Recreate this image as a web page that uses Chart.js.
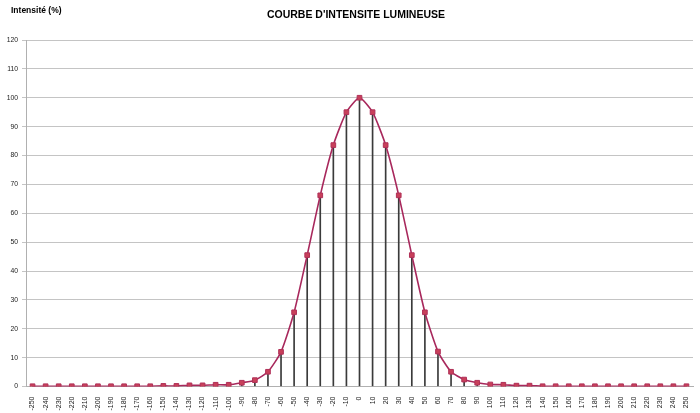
<!DOCTYPE html>
<html>
<head>
<meta charset="utf-8">
<script src="https://cdn.jsdelivr.net/npm/chart.js@4/dist/chart.umd.min.js"></script>
<style>
  html, body { margin: 0; padding: 0; background: #ffffff; }
  #wrap { position: relative; width: 700px; height: 413px; }
</style>
</head>
<body>
<div id="wrap"><canvas id="c" width="700" height="413"></canvas></div>
<script>
const chartTitle = "COURBE D'INTENSITE LUMINEUSE";
const yAxisTitle = "Intensité (%)";

const angles = [
  "-250","-240","-230","-220","-210","-200","-190","-180","-170","-160",
  "-150","-140","-130","-120","-110","-100","-90","-80","-70","-60",
  "-50","-40","-30","-20","-10","0","10","20","30","40",
  "50","60","70","80","90","100","110","120","130","140",
  "150","160","170","180","190","200","210","220","230","240","250"
];

const intensity = [
  0.1, 0.1, 0.1, 0.1, 0.1, 0.1, 0.1, 0.1, 0.1, 0.1,
  0.2, 0.2, 0.4, 0.4, 0.6, 0.6, 1.3, 2.2, 5.1, 12.0,
  25.7, 45.5, 66.2, 83.6, 95.0, 100.0, 95.0, 83.6, 66.2, 45.5,
  25.7, 12.1, 5.1, 2.4, 1.3, 0.7, 0.6, 0.3, 0.3, 0.1,
  0.1, 0.1, 0.1, 0.1, 0.1, 0.1, 0.1, 0.1, 0.1, 0.1, 0.1
];

const yTicks = { min: 0, max: 120, step: 10 };

const textPlugin = {
  id: 'texts',
  afterDraw(chart) {
    const ctx = chart.ctx;
    ctx.save();
    ctx.fillStyle = '#000000';
    ctx.textBaseline = 'middle';
    ctx.font = 'bold 10.5px "Liberation Sans", Arial, sans-serif';
    ctx.textAlign = 'center';
    ctx.fillText(chartTitle, 356, 15);
    ctx.font = 'bold 8.5px "Liberation Sans", Arial, sans-serif';
    ctx.textAlign = 'left';
    ctx.fillText(yAxisTitle, 11, 11);
    ctx.restore();
  }
};

new Chart(document.getElementById('c'), {
  data: {
    labels: angles,
    datasets: [
      {
        type: 'line',
        data: intensity,
        borderColor: '#a8285c',
        borderWidth: 1.6,
        backgroundColor: '#c8405a',
        pointStyle: 'rect',
        pointRadius: 3.3,
        pointBorderColor: '#b03058',
        pointBackgroundColor: '#c8405a',
        pointBorderWidth: 1,
        tension: 0.2,
        fill: false,
        order: 0
      },
      {
        type: 'bar',
        data: intensity,
        backgroundColor: '#3a3a3a',
        barThickness: 1,
        order: 1
      }
    ]
  },
  options: {
    responsive: false,
    animation: false,
    devicePixelRatio: 1,
    layout: { padding: { left: 0, right: 7, top: 40, bottom: 0 } },
    plugins: {
      legend: { display: false },
      title: { display: false },
      tooltip: { enabled: false }
    },
    scales: {
      x: {
        grid: { display: false },
        border: { display: true, color: '#b0b0b0', width: 1 },
        ticks: {
          autoSkip: false,
          minRotation: 90,
          maxRotation: 90,
          padding: 2,
          color: '#222222',
          font: { family: '"Liberation Sans", Arial, sans-serif', size: 7 }
        },
        afterFit(scale) { scale.height = 26.5; }
      },
      y: {
        min: yTicks.min,
        max: yTicks.max,
        ticks: {
          stepSize: yTicks.step,
          padding: 4,
          color: '#222222',
          font: { family: '"Liberation Sans", Arial, sans-serif', size: 6.8 }
        },
        grid: { color: '#c4c4c4', lineWidth: 1, tickLength: 4, drawTicks: true },
        border: { display: true, color: '#b0b0b0', width: 1 },
        afterFit(scale) { scale.width = 26; }
      }
    }
  },
  plugins: [textPlugin]
});
</script>
</body>
</html>
